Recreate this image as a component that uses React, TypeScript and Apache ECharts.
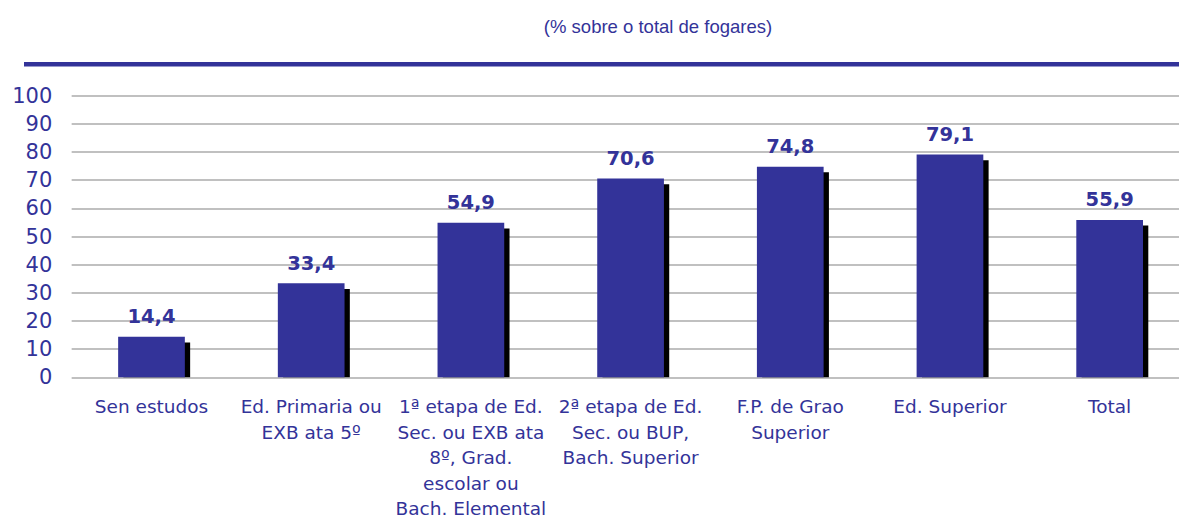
import React, { useEffect, useRef } from "react";
import * as echarts from "echarts";

const categories = [
  "Sen estudos",
  "Ed. Primaria ou\nEXB ata 5º",
  "1ª etapa de Ed.\nSec. ou EXB ata\n8º, Grad.\nescolar ou\nBach. Elemental",
  "2ª etapa de Ed.\nSec. ou BUP,\nBach. Superior",
  "F.P. de Grao\nSuperior",
  "Ed. Superior",
  "Total",
];
const values = [14.4, 33.4, 54.9, 70.6, 74.8, 79.1, 55.9];
const subtitle = "(% sobre o total de fogares)";

const BLUE = "#333399";
const FONT = "Verdana, 'DejaVu Sans', sans-serif";
const BAR_W = 66.7;

export default function App() {
  const ref = useRef<HTMLDivElement>(null);
  useEffect(() => {
    if (!ref.current) return;
    const chart = echarts.init(ref.current, null, { renderer: "svg" });
    chart.setOption({
      animation: false,
      backgroundColor: "#ffffff",
      graphic: [
        {
          type: "text",
          x: 658,
          y: 26,
          style: {
            text: subtitle,
            fill: BLUE,
            font: "18.5px 'Liberation Sans', Arial, sans-serif",
            textAlign: "center",
            textVerticalAlign: "middle",
          },
        },
        {
          type: "rect",
          shape: { x: 24, y: 62, width: 1160, height: 4.5 },
          style: { fill: BLUE },
        },
      ],
      grid: {
        left: 71.65,
        right: -10.5,
        top: 95.7,
        bottom: 518 - 377.3,
        outerBoundsMode: "none",
      },
      xAxis: {
        type: "category",
        data: categories,
        axisLine: { show: false },
        axisTick: { show: false },
        axisLabel: {
          interval: 0,
          color: BLUE,
          fontFamily: FONT,
          fontSize: 18.5,
          lineHeight: 25.4,
          margin: 17,
        },
      },
      yAxis: {
        type: "value",
        min: 0,
        max: 100,
        interval: 10,
        axisLine: { show: false },
        axisTick: { show: false },
        axisLabel: {
          color: BLUE,
          fontFamily: FONT,
          fontSize: 21,
          margin: 19.3,
        },
        splitLine: { lineStyle: { color: "#c0c0c0", width: 2 } },
      },
      series: [
        {
          type: "custom",
          z: 1,
          data: values.map((v, i) => [i, v]),
          encode: { x: 0, y: 1 },
          renderItem: (params: any, api: any) => {
            const idx = api.value(0);
            const v = api.value(1);
            const top = api.coord([idx, v]);
            const base = api.coord([idx, 0]);
            const y0 = top[1] + 5.7;
            return {
              type: "rect",
              shape: {
                x: top[0] - BAR_W / 2 + 5.3,
                y: y0,
                width: BAR_W,
                height: Math.max(0, base[1] - y0),
              },
              style: { fill: "#000000" },
            };
          },
        },
        {
          type: "bar",
          z: 2,
          data: values,
          barWidth: BAR_W,
          itemStyle: { color: BLUE },
          label: {
            show: true,
            position: "top",
            distance: 10,
            color: BLUE,
            fontFamily: FONT,
            fontSize: 19.5,
            fontWeight: "bold",
            formatter: (p: any) => Number(p.value).toFixed(1).replace(".", ","),
          },
        },
      ],
    });
    return () => chart.dispose();
  }, []);
  return (
    <div
      ref={ref}
      style={{ position: "absolute", left: 0, top: 0, width: 1179, height: 518 }}
    />
  );
}
